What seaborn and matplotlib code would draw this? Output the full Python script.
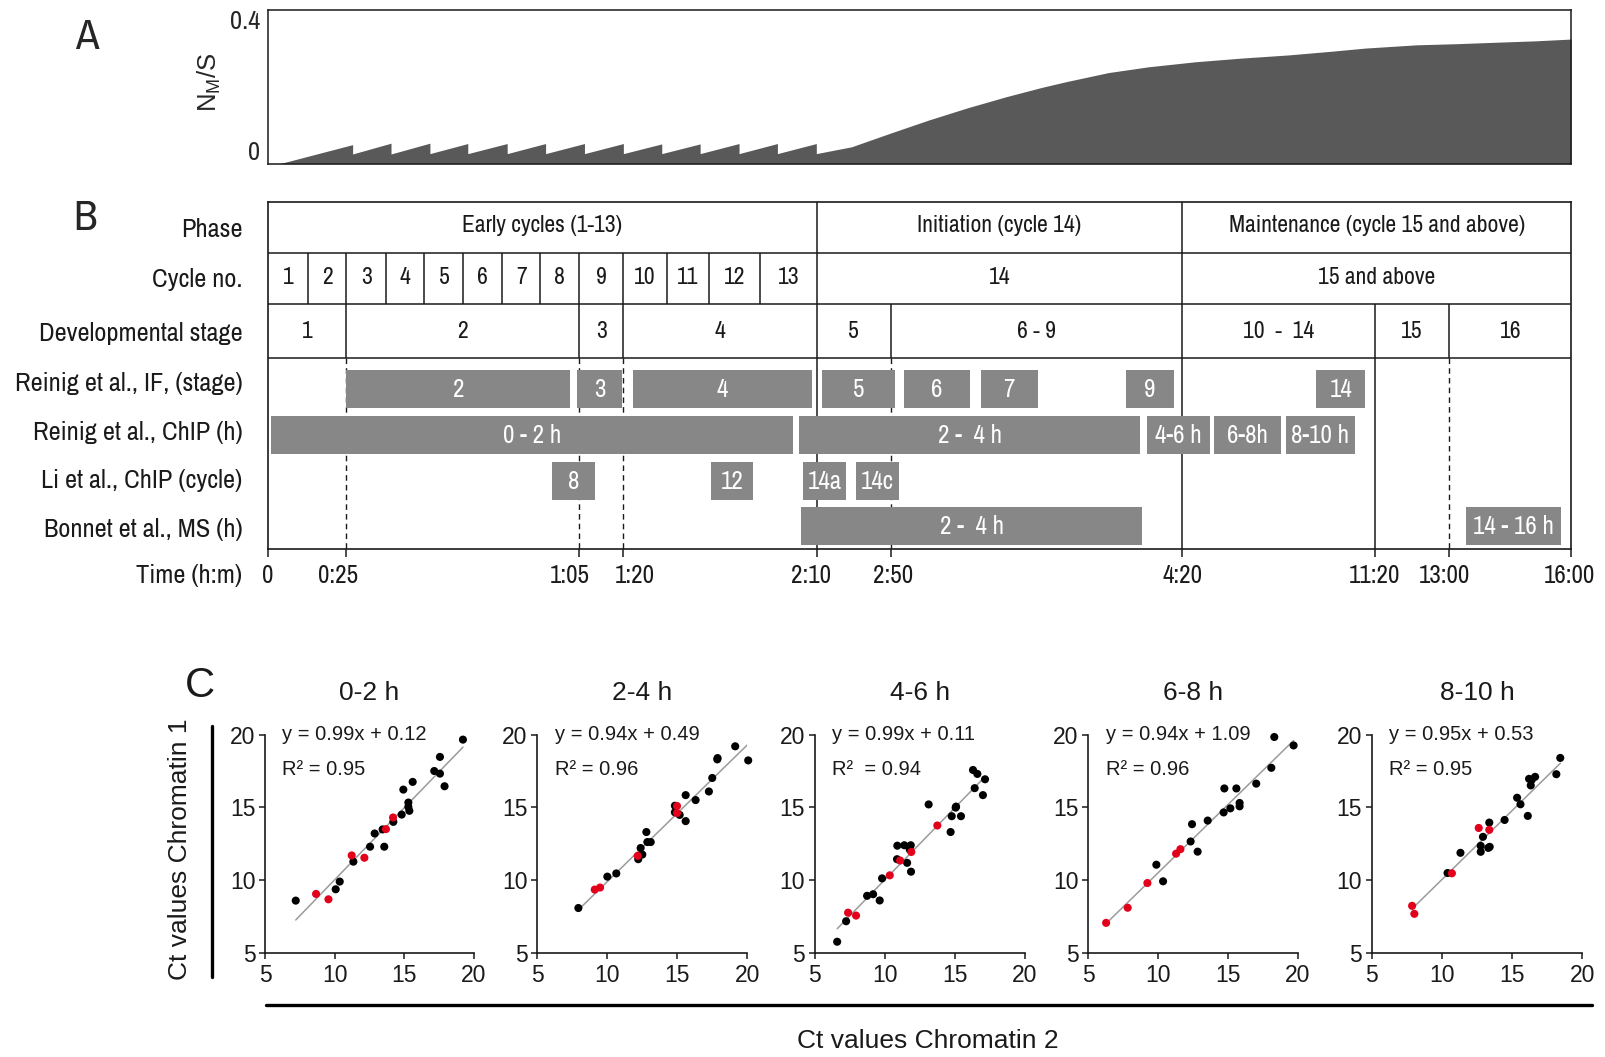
#!/usr/bin/python3
# -*- coding: utf8 -*-

import matplotlib
matplotlib.use('Agg')
import matplotlib.pyplot as plt
from matplotlib.lines import Line2D
import seaborn as sns
import pandas as pd
import numpy as np

# ---------------- A: N_M/S, x in the same schematic units as panel B
saw_start = 11
saw_drops = [82.5, 120, 158, 195, 233.5, 271, 309, 347, 384.5, 422, 460, 497.5, 535.5]
saw_peaks = [0.053, 0.057, 0.057, 0.056, 0.056, 0.056, 0.056, 0.056, 0.055, 0.055, 0.056, 0.056, 0.056]
saw_troughs = [0.027, 0.027, 0.028, 0.028, 0.028, 0.028, 0.028, 0.028, 0.028, 0.028, 0.028, 0.028, 0.028]
late_x = [570, 608, 645, 683, 721, 756, 780, 821, 860, 906, 950, 997, 1038, 1072, 1122, 1160, 1198, 1238, 1273]
late_y = [0.047, 0.085, 0.121, 0.155, 0.186, 0.212, 0.228, 0.253, 0.269, 0.283, 0.293, 0.302, 0.312, 0.321, 0.330, 0.333, 0.337, 0.341, 0.346]

# ---------------- B: timeline table
time_labels = ['0', '0:25', '1:05', '1:20', '2:10', '2:50', '4:20', '11:20', '13:00', '16:00']
time_pos = [0, 76.5, 304, 347, 536, 608, 893, 1081, 1154, 1273]

phase_labels = ['Early cycles (1-13)', 'Initiation (cycle 14)', 'Maintenance (cycle 15 and above)']
phase_edges = [0, 536, 893, 1273]

cycle_labels = ['1', '2', '3', '4', '5', '6', '7', '8', '9', '10', '11', '12', '13', '14', '15 and above']
cycle_edges = [0, 38.7, 76.5, 114.8, 152.5, 190.8, 228.5, 265.8, 304, 347, 389.5, 430.7, 480.4, 536, 893, 1273]

stage_labels = ['1', '2', '3', '4', '5', '6 - 9', '10  -  14', '15', '16']
stage_edges = [0, 76.5, 304, 347, 536, 608, 893, 1081, 1154, 1273]

solid_marks = [536, 893, 1081]
dashed_marks = [76.5, 304, 347, 608, 1154]

row_labels = ['Phase', 'Cycle no.', 'Developmental stage', 'Reinig et al., IF, (stage)',
              'Reinig et al., ChIP (h)', 'Li et al., ChIP (cycle)', 'Bonnet et al., MS (h)', 'Time (h:m)']

if_start = [76.5, 302, 356, 541.5, 621.5, 696, 838, 1024]
if_end = [295, 345.7, 531, 612, 685.4, 752, 885, 1071.7]
if_text = ['2', '3', '4', '5', '6', '7', '9', '14']

chip_start = [3, 519, 859, 924, 994]
chip_end = [512.7, 852, 920, 989, 1061.7]
chip_text = ['0 - 2 h', '2 -  4 h', '4-6 h', '6-8h', '8-10 h']

li_start = [277.7, 432.7, 522.4, 574]
li_end = [319, 474, 564.7, 616.5]
li_text = ['8', '12', '14a', '14c']

ms_start = [521, 1170]
ms_end = [854, 1263]
ms_text = ['2 -  4 h', '14 - 16 h']

# ---------------- C: Ct value scatter plots
titles = ['0-2 h', '2-4 h', '4-6 h', '6-8 h', '8-10 h']
equations = ['y = 0.99x + 0.12', 'y = 0.94x + 0.49', 'y = 0.99x + 0.11', 'y = 0.94x + 1.09', 'y = 0.95x + 0.53']
r2_texts = ['R² = 0.95', 'R² = 0.96', 'R²  = 0.94', 'R² = 0.96', 'R² = 0.95']
slopes = [0.99, 0.94, 0.99, 0.94, 0.95]
intercepts = [0.12, 0.49, 0.11, 1.09, 0.53]

h02_x = [7.2, 10.07, 10.36, 11.34, 12.54, 12.87, 13.44, 13.56, 14.21, 14.81, 14.93, 15.29, 15.29, 15.36, 15.6, 17.15, 17.56, 17.56, 17.89, 19.21]
h02_y = [8.58, 9.36, 9.89, 11.26, 12.29, 13.2, 13.48, 12.29, 14.0, 14.5, 16.22, 15.03, 15.33, 14.76, 16.75, 17.5, 17.32, 18.47, 16.45, 19.66]
h02_rx = [8.66, 9.55, 11.22, 12.13, 13.68, 14.19]
h02_ry = [9.04, 8.67, 11.69, 11.53, 13.5, 14.3]

h24_x = [7.93, 10.0, 10.64, 12.21, 12.38, 12.5, 12.79, 12.86, 13.1, 14.83, 14.83, 15.17, 15.6, 15.6, 16.31, 17.26, 17.5, 17.86, 17.88, 19.14, 20.07]
h24_y = [8.07, 10.23, 10.45, 11.43, 12.2, 11.75, 13.3, 12.61, 12.61, 15.11, 14.66, 14.48, 14.05, 15.84, 15.5, 16.09, 17.02, 18.3, 18.39, 19.2, 18.23]
h24_rx = [9.1, 9.48, 12.17, 14.98, 14.98]
h24_ry = [9.34, 9.48, 11.66, 15.09, 14.61]

h46_x = [6.6, 7.24, 8.74, 9.17, 9.64, 9.81, 10.9, 10.88, 11.4, 11.6, 11.86, 11.79, 11.88, 13.14, 14.71, 14.79, 15.07, 15.1, 15.45, 16.31, 16.43, 16.62, 17.02, 17.17]
h46_y = [5.75, 7.16, 8.91, 9.02, 8.59, 10.11, 12.36, 11.43, 12.39, 11.18, 12.39, 12.09, 10.57, 15.2, 13.3, 14.39, 14.98, 15.05, 14.39, 17.57, 16.32, 17.3, 15.84, 16.93]
h46_rx = [7.38, 7.95, 10.36, 11.1, 11.9, 13.76]
h46_ry = [7.75, 7.55, 10.32, 11.34, 11.93, 13.75]

h68_x = [9.88, 10.36, 12.33, 12.43, 12.83, 13.55, 14.69, 14.74, 15.17, 15.6, 15.83, 15.83, 17.02, 18.1, 18.31, 19.69]
h68_y = [11.05, 9.91, 12.65, 13.84, 11.95, 14.09, 14.65, 16.3, 14.93, 16.3, 15.3, 15.07, 16.63, 17.72, 19.84, 19.26]
h68_rx = [6.29, 7.83, 9.24, 11.29, 11.6]
h68_ry = [7.05, 8.09, 9.79, 11.81, 12.12]

h810_x = [10.4, 11.32, 12.76, 12.76, 12.92, 13.3, 13.4, 13.37, 14.46, 15.35, 15.59, 16.11, 16.2, 16.32, 16.39, 16.63, 18.14, 18.42]
h810_y = [10.48, 11.87, 11.94, 12.35, 12.97, 12.21, 12.28, 13.95, 14.13, 15.66, 15.21, 14.41, 16.96, 16.51, 16.89, 17.1, 17.28, 18.4]
h810_rx = [7.88, 8.04, 10.71, 12.62, 13.37]
h810_ry = [8.22, 7.67, 10.46, 13.58, 13.45]

panel_data = [(h02_x, h02_y, h02_rx, h02_ry), (h24_x, h24_y, h24_rx, h24_ry),
              (h46_x, h46_y, h46_rx, h46_ry), (h68_x, h68_y, h68_rx, h68_ry),
              (h810_x, h810_y, h810_rx, h810_ry)]

frames = []
for t, (bx, by, rx, ry) in zip(titles, panel_data):
    frames.append(pd.DataFrame({'panel': t, 'chrom2': bx, 'chrom1': by, 'group': 'other'}))
    frames.append(pd.DataFrame({'panel': t, 'chrom2': rx, 'chrom1': ry, 'group': 'marked'}))
ct = pd.concat(frames, ignore_index=True)

# ---------------- figure
sns.set_theme(style='white')
plt.rcParams['font.family'] = ['Liberation Sans', 'DejaVu Sans']
NARROW = ['Archivo Narrow', 'Liberation Sans', 'DejaVu Sans']
INK = '#1a1a1a'

fig = plt.figure(figsize=(16.05, 10.57), dpi=100)
W, H = 1568.0, 1033.0


def box(x0, y0, x1, y1):
    return [x0 / W, 1 - y1 / H, (x1 - x0) / W, (y1 - y0) / H]


# ---- A
axA = fig.add_axes(box(262, 10, 1535, 160))
xs = [saw_start]
ys = [0]
for d, p, t in zip(saw_drops, saw_peaks, saw_troughs):
    xs += [d, d]
    ys += [p, t]
xs += late_x
ys += late_y
axA.fill_between(xs, ys, 0, color='#595959', lw=0)
axA.set_xlim(0, 1273)
axA.set_ylim(0, 0.426)
axA.set_xticks([])
axA.set_yticks([0, 0.4], ['0', '0.4'])
axA.tick_params(axis='y', length=0, pad=6, labelsize=19)
for lbl in axA.get_yticklabels():
    lbl.set_family(NARROW)
axA.get_yticklabels()[0].set_va('bottom')
for s in axA.spines.values():
    s.set_color(INK)
    s.set_linewidth(1.1)
axA.set_ylabel(r'N$_{\mathregular{M}}$/S', fontsize=18.5)
axA.yaxis.set_label_coords(-0.035, 0.53)
fig.text(85 / W, 1 - 36 / H, 'A', fontsize=31, family=NARROW, ha='center', va='center')

# ---- B
axB = fig.add_axes(box(262, 197, 1535, 537))
axB.set_xlim(0, 1273)
axB.set_ylim(340, 0)
for s in axB.spines.values():
    s.set_color(INK)
    s.set_linewidth(1.2)
lw = 1.1
axB.hlines([50, 100, 153], 0, 1273, color=INK, lw=lw)
axB.vlines(phase_edges[1:-1], 0, 50, color=INK, lw=lw)
axB.vlines(cycle_edges[1:-1], 50, 100, color=INK, lw=lw)
axB.vlines(stage_edges[1:-1], 100, 153, color=INK, lw=lw)
axB.vlines(solid_marks, 153, 340, color=INK, lw=lw)
axB.vlines(dashed_marks, 153, 340, color=INK, lw=1.0, linestyles=(0, (4, 3)))

cell_font = dict(fontsize=17, family=NARROW, ha='center', va='center', color=INK)
for i, lab in enumerate(phase_labels):
    axB.text((phase_edges[i] + phase_edges[i + 1]) / 2, 23, lab, **cell_font)
for i, lab in enumerate(cycle_labels):
    axB.text((cycle_edges[i] + cycle_edges[i + 1]) / 2, 74, lab, **cell_font)
for i, lab in enumerate(stage_labels):
    axB.text((stage_edges[i] + stage_edges[i + 1]) / 2, 127, lab, **cell_font)

bar_rows = [(if_start, if_end, if_text, 183), (chip_start, chip_end, chip_text, 228),
            (li_start, li_end, li_text, 273), (ms_start, ms_end, ms_text, 317)]
for starts, ends, texts, yc in bar_rows:
    widths = np.array(ends) - np.array(starts)
    axB.barh(yc, widths, left=starts, height=37, color='#878787', lw=0, zorder=3)
    for a, b, t in zip(starts, ends, texts):
        axB.text((a + b) / 2, yc + 1, t, fontsize=18, family=NARROW, color='white',
                 ha='center', va='center', zorder=4)

row_y = [27, 76, 129, 178, 226, 273, 320, 365]
for lab, yy in zip(row_labels, row_y):
    axB.text(-25, yy, lab, fontsize=19, family=NARROW, ha='right', va='center', color=INK, clip_on=False)

axB.set_yticks([])
axB.set_xticks(time_pos, [''] * len(time_pos))
axB.tick_params(axis='x', direction='out', length=6, width=1.1, colors=INK, bottom=True)
# labels sit a little off their ticks where they would crowd
label_shift = [0, -8, -9, 11, -6, 2, 0, 0, -5, -2]
for p, lab, dx in zip(time_pos, time_labels, label_shift):
    axB.text(p + dx, 365, lab, fontsize=18, family=NARROW, ha='center', va='center', color=INK, clip_on=False)
fig.text(83 / W, 1 - 213 / H, 'B', fontsize=31, family=NARROW, ha='center', va='center')

# ---- C
c_left = [259, 525, 796, 1063, 1340]
c_right = [463, 730, 1001, 1268, 1546]
palette = {'other': 'black', 'marked': '#e3001b'}
for i, t in enumerate(titles):
    ax = fig.add_axes(box(c_left[i], 718, c_right[i], 931))
    sub = ct[ct['panel'] == t]
    xx = np.array([sub['chrom2'].min(), sub['chrom2'].max()])
    sns.lineplot(x=xx, y=slopes[i] * xx + intercepts[i], color='#9b9b9b', lw=1.1, ax=ax, zorder=2)
    sns.scatterplot(data=sub, x='chrom2', y='chrom1', hue='group', palette=palette, s=34,
                    edgecolor='none', legend=False, ax=ax, zorder=3, clip_on=False)
    ax.set_xlim(5, 20)
    ax.set_ylim(5, 20)
    ax.set_xticks([5, 10, 15, 20])
    ax.set_yticks([5, 10, 15, 20])
    ax.set_xlabel('')
    ax.set_ylabel('')
    sns.despine(ax=ax)
    for side in ['left', 'bottom']:
        ax.spines[side].set_color(INK)
        ax.spines[side].set_linewidth(1.2)
    ax.tick_params(direction='out', length=4, width=1.1, labelsize=16.5, colors=INK,
                   left=True, bottom=True)
    ax.tick_params(axis='x', pad=4)
    ax.tick_params(axis='y', pad=3)
    ax.text(0.5, 1.19, t, transform=ax.transAxes, fontsize=19, ha='center', va='center', color=INK)
    ax.text(0.083, 1.0, equations[i], transform=ax.transAxes, fontsize=14.5, ha='left', va='center', color=INK)
    ax.text(0.083, 0.84, r2_texts[i], transform=ax.transAxes, fontsize=14.5, ha='left', va='center', color=INK)

fig.text(195 / W, 1 - 670 / H, 'C', fontsize=30, ha='center', va='center', color=INK)
fig.add_artist(Line2D([207 / W, 207 / W], [1 - 710 / H, 1 - 955 / H], color='black', lw=2.4))
fig.add_artist(Line2D([260 / W, 1555 / W], [1 - 982 / H, 1 - 982 / H], color='black', lw=2.4))
fig.text(176 / W, 1 - 830 / H, 'Ct values Chromatin 1', fontsize=19, rotation=90, ha='center', va='center', color=INK)
fig.text(906 / W, 1 - 1017 / H, 'Ct values Chromatin 2', fontsize=19, ha='center', va='center', color=INK)

fig.savefig('out.png', dpi=100, facecolor='white')
